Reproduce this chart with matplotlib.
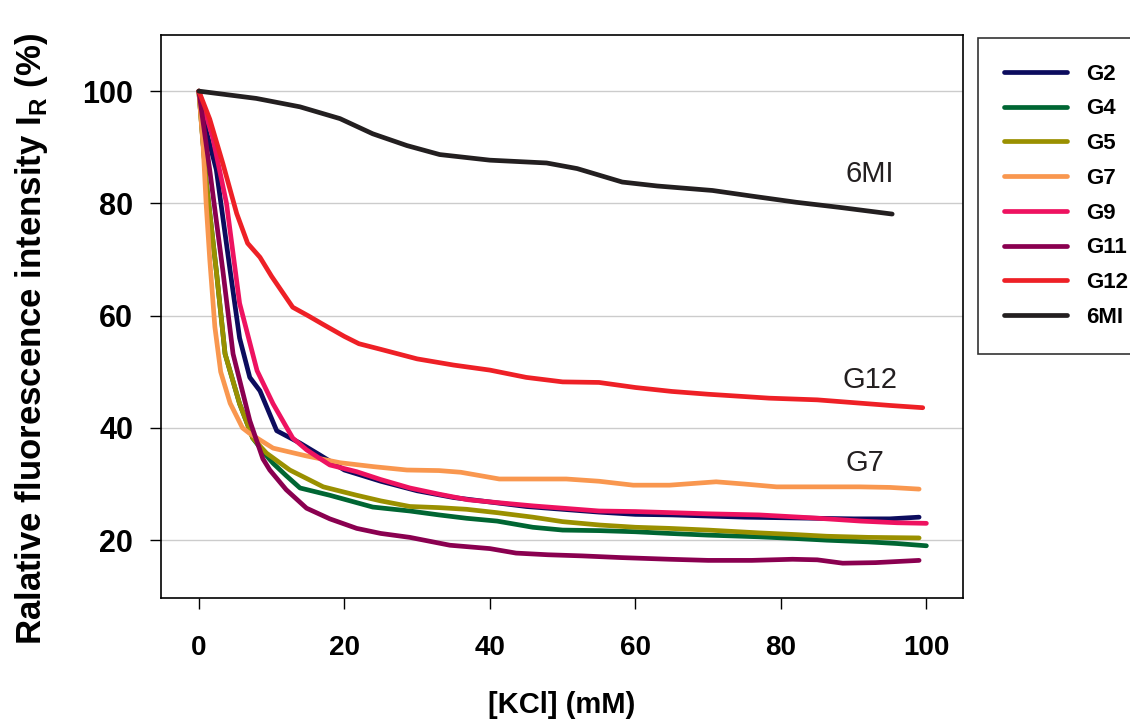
import matplotlib
matplotlib.use("Agg")
import matplotlib.pyplot as plt

plt.rcParams['font.family'] = ['Liberation Sans', 'DejaVu Sans']
plt.rcParams['mathtext.fontset'] = 'custom'
plt.rcParams['mathtext.bf'] = 'Liberation Sans:bold'
plt.rcParams['mathtext.rm'] = 'Liberation Sans'

# data
g2_x = [0, 1, 2.4, 4.3, 5.6, 7, 8.4, 10.7, 13.9, 16.6, 20, 25, 30, 35, 40, 45, 50, 55, 60, 65, 70, 75, 80, 85, 90, 95, 99]
g2_y = [100, 93, 86, 68, 56, 49, 46.6, 39.5, 37.3, 35.2, 32.5, 30.5, 28.8, 27.6, 26.8, 26, 25.5, 25, 24.6, 24.5, 24.3, 24.1, 24, 23.9, 23.8, 23.8, 24.1]

g4_x = [0, 1, 2.4, 3.6, 5.6, 7.4, 9, 10.2, 12, 13.9, 18, 23.9, 29, 33, 36.8, 41, 45.9, 50, 55.1, 60, 64.7, 70, 77, 82, 86.3, 92, 96, 100]
g4_y = [100, 84, 68, 53.2, 44.3, 38.2, 35.5, 33.7, 31.5, 29.3, 28, 25.9, 25.2, 24.5, 23.9, 23.4, 22.3, 21.8, 21.7, 21.5, 21.2, 20.9, 20.6, 20.3, 20, 19.7, 19.4, 19]

g5_x = [0, 1, 2.4, 3.6, 5.6, 7.4, 9.3, 12.5, 17.1, 21.7, 25, 29, 33, 36.8, 41, 45.9, 50, 55.1, 60, 64.7, 70, 77, 82, 86.3, 92, 99]
g5_y = [100, 84, 68, 53.2, 44.3, 38.2, 35.5, 32.5, 29.5, 28, 27, 26, 25.8, 25.5, 24.9, 24.1, 23.3, 22.7, 22.3, 22.1, 21.8, 21.3, 21, 20.7, 20.5, 20.4]

g7_x = [0, 0.6, 1, 1.5, 2.2, 3, 4.3, 6, 7, 10.2, 14.8, 19.4, 24, 28.6, 33, 36, 41.3, 45, 50.5, 55, 59.7, 64.7, 71.1, 75, 79.4, 85, 90.8, 95, 99]
g7_y = [100, 90, 80, 70, 58, 50, 44.4, 40, 39, 36.4, 35, 33.8, 33.1, 32.5, 32.4, 32.1, 30.9, 30.9, 30.9, 30.5, 29.8, 29.8, 30.4, 30, 29.5, 29.5, 29.5, 29.4, 29.1]

g9_x = [0, 1.9, 3.8, 5.6, 8, 10.2, 12.9, 14.8, 18, 21.7, 25, 29, 33, 37, 41, 46, 50, 55, 60, 65, 70, 77, 84, 91, 96, 100]
g9_y = [100, 91.8, 80, 62.2, 50.2, 44.3, 38.2, 36.1, 33.4, 32.2, 30.8, 29.3, 28.2, 27.2, 26.7, 26.1, 25.7, 25.2, 25.1, 24.9, 24.7, 24.5, 24, 23.4, 23.1, 23]

g11_x = [0, 1.5, 3.3, 4.7, 7, 8.8, 9.75, 12, 14.8, 18, 21.7, 25, 29, 34.5, 40, 43.6, 48, 52.7, 58, 64.7, 70, 76, 81.6, 85, 88.5, 93, 99]
g11_y = [100, 85.9, 68, 53.2, 41.3, 34.5, 32.5, 29, 25.7, 23.8, 22.1, 21.2, 20.5, 19.1, 18.5, 17.7, 17.4, 17.2, 16.9, 16.6, 16.4, 16.4, 16.6, 16.5, 15.9, 16, 16.4]

g12_x = [0, 1.5, 3.3, 5.2, 6.7, 8.4, 10, 12.9, 15, 17, 20, 22, 25, 30, 35, 40, 45, 50, 55, 60, 65, 70, 78.4, 85, 90, 95, 99.5]
g12_y = [100, 95, 87.1, 78.2, 72.9, 70.4, 67, 61.5, 60, 58.5, 56.3, 55, 54, 52.3, 51.2, 50.3, 49, 48.2, 48.1, 47.2, 46.5, 46, 45.3, 45, 44.5, 44, 43.6]

mi6_x = [0, 7.9, 13.9, 19.4, 23.9, 28.6, 33.1, 40, 47.8, 52, 58.2, 63, 70.6, 76, 82.1, 88, 95.3]
mi6_y = [100, 98.7, 97.2, 95.1, 92.4, 90.3, 88.7, 87.7, 87.2, 86.2, 83.8, 83.1, 82.3, 81.3, 80.2, 79.3, 78.1]

series = [
    ("G2", g2_x, g2_y, "#0c0c5e"),
    ("G4", g4_x, g4_y, "#006633"),
    ("G5", g5_x, g5_y, "#9a9000"),
    ("G7", g7_x, g7_y, "#f9974f"),
    ("G9", g9_x, g9_y, "#ee1260"),
    ("G11", g11_x, g11_y, "#8a0050"),
    ("G12", g12_x, g12_y, "#ee2026"),
    ("6MI", mi6_x, mi6_y, "#231f20"),
]

fig = plt.figure(figsize=(11.3, 7.23), dpi=100)
ax = fig.add_axes([0.1425, 0.1729, 0.7095, 0.7787])

for name, xs, ys, c in series:
    ax.plot(xs, ys, color=c, lw=3.4, label=name, solid_capstyle='round', solid_joinstyle='round')

ax.set_xlim(-5.2, 105)
ax.set_ylim(9.7, 110)
ax.set_xticks([0, 20, 40, 60, 80, 100])
ax.set_yticks([20, 40, 60, 80, 100])
ax.yaxis.grid(True, color='#cccccc', lw=1)
ax.set_axisbelow(True)

ax.tick_params(axis='x', direction='out', length=8, width=1, pad=19, labelsize=20)
ax.tick_params(axis='y', direction='out', length=8, width=1, pad=12, labelsize=22)
for lab in ax.get_xticklabels() + ax.get_yticklabels():
    lab.set_fontweight('bold')
for sp in ax.spines.values():
    sp.set_linewidth(1.2)

ax.set_xlabel('[KCl] (mM)', fontsize=21, fontweight='bold', va='center')
ax.xaxis.set_label_coords(0.5, -0.19)
ax.set_ylabel(r'Ralative fluorescence intensity I$_{\mathbf{R}}$ (%)', fontsize=25,
              fontweight='bold', va='center')
ax.yaxis.set_label_coords(-0.161, 0.46)

ax.text(92.2, 85.2, '6MI', fontsize=21, ha='center', va='center', color='#231f20')
ax.text(92.3, 48.6, 'G12', fontsize=21, ha='center', va='center', color='#231f20')
ax.text(91.6, 33.8, 'G7', fontsize=21, ha='center', va='center', color='#231f20')

leg = fig.legend(loc='upper left', bbox_to_anchor=(978 / 1130, 1 - 38 / 723),
                 frameon=True, fancybox=False, edgecolor='black',
                 prop={'weight': 'bold', 'size': 16}, handlelength=2.85,
                 labelspacing=0.62, borderpad=1.15, handletextpad=0.85,
                 borderaxespad=0)
leg.get_frame().set_linewidth(1.2)

fig.savefig('out.png', dpi=100)
